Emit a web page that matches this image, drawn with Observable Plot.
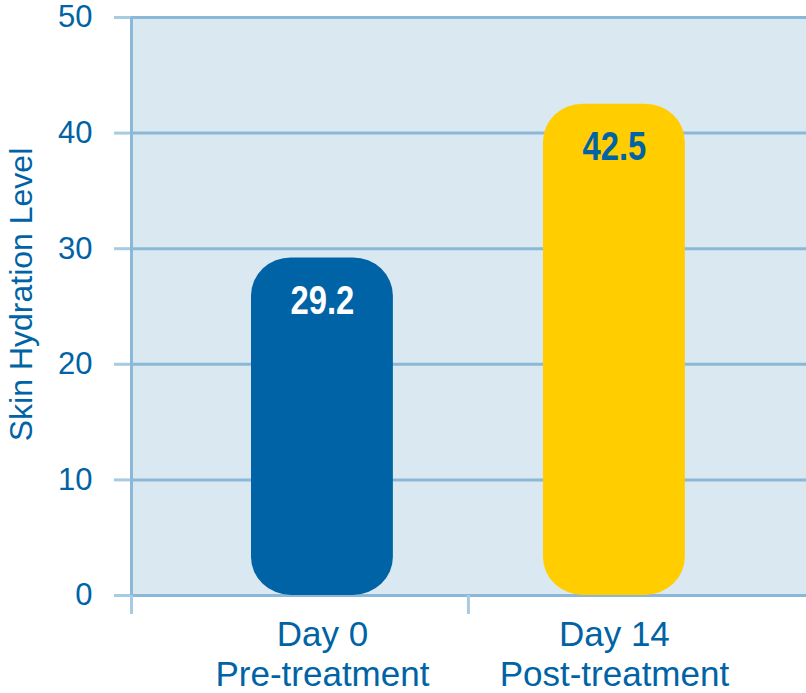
<!DOCTYPE html>
<html>
<head>
<meta charset="utf-8">
<script src="https://cdn.jsdelivr.net/npm/d3@7"></script>
<script src="https://cdn.jsdelivr.net/npm/@observablehq/plot@0.6"></script>
<style>
  html, body { margin: 0; padding: 0; background: #ffffff; }
  #chart svg { display: block; }
</style>
</head>
<body>
<div id="chart"></div>
<script>
// ---- data ----
const days = ["Day 0", "Day 14"];
const phases = ["Pre-treatment", "Post-treatment"];
const hydration = [29.2, 42.5];
const yTicks = [0, 10, 20, 30, 40, 50];
const yLabel = "Skin Hydration Level";

const blue = "#0063a5";
const yellow = "#ffcd00";
const barColors = [blue, yellow];
const labelColors = ["#ffffff", blue];

const data = days.map((d, i) => ({
  i, day: d, phase: phases[i], value: hydration[i],
  fill: barColors[i], labelFill: labelColors[i]
}));

const halfBar = 0.243;
const xDomain = [-0.654, 1.658];
const font = "Liberation Sans, Arial, Helvetica, sans-serif";

const chart = Plot.plot({
  width: 806,
  height: 693,
  marginLeft: 131,
  marginRight: 0,
  marginTop: 17,
  marginBottom: 98,
  style: { fontFamily: font, background: "#ffffff", overflow: "visible" },
  x: { type: "linear", domain: xDomain, axis: null },
  y: { domain: [0, 50], axis: null },
  marks: [
    Plot.frame({ fill: "#dae8f2", stroke: null }),
    Plot.gridY(yTicks, { stroke: "#8bb8d6", strokeOpacity: 1, strokeWidth: 3 }),
    Plot.axisY(yTicks, {
      tickSize: 17, tickPadding: 22, stroke: "#a7cbe2", strokeWidth: 3,
      fill: blue, fontSize: 31, tickFormat: d => String(d), label: null
    }),
    // left axis line and its extension below zero
    Plot.ruleX([xDomain[0]], { y1: 0, y2: 50, stroke: "#8bb8d6", strokeWidth: 3 }),
    Plot.ruleX([xDomain[0], 0.5], { y1: 0, y2: 0, insetBottom: -19, stroke: "#a7cbe2", strokeWidth: 3 }),
    // bars
    Plot.rect(data, {
      x1: d => d.i - halfBar, x2: d => d.i + halfBar,
      y1: 0, y2: "value", fill: "fill", rx: 40, ry: 38
    }),
    // value labels
    Plot.text(data, {
      x: "i", y: "value", text: d => d.value.toFixed(1), fill: "labelFill",
      dy: 43, fontSize: 40, fontWeight: "bold", className: "vlabel"
    }),
    // category labels
    Plot.text(data, {
      x: "i", y: 0, text: d => d.day + "\n" + d.phase, fill: blue,
      lineAnchor: "top", dy: 22, fontSize: 35, lineHeight: 1.15
    }),
    // y label
    Plot.text([yLabel], {
      frameAnchor: "left", text: d => d, rotate: -90, dx: -110, dy: -12,
      textAnchor: "middle", fill: blue, fontSize: 32, lineAnchor: "middle"
    })
  ]
});

// condense the bold value labels horizontally
d3.select(chart).selectAll(".vlabel text").each(function () {
  const t = this.getAttribute("transform") || "";
  this.setAttribute("transform", t + " scale(0.82,1)");
});

document.getElementById("chart").appendChild(chart);
</script>
</body>
</html>
